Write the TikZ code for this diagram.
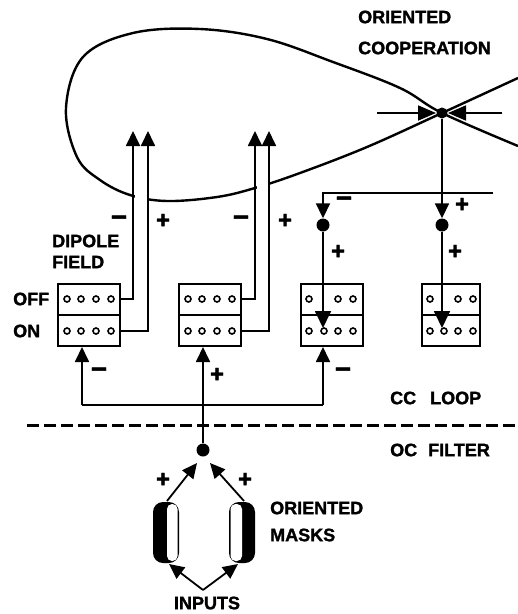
\documentclass[tikz,border=0pt]{standalone}
\usepackage{fontspec}
\setmainfont{Liberation Sans}[BoldFeatures={FakeBold=1.5}]
\usetikzlibrary{arrows.meta}
\begin{document}
\begin{tikzpicture}[x=1pt,y=-1pt,
  lab/.style={font=\fontsize{18}{18}\selectfont\bfseries, inner sep=0pt},
  sgn/.style={font=\fontsize{24}{24}\selectfont\bfseries, inner sep=0pt},
  msgn/.style={font=\fontsize{28}{28}\selectfont\bfseries, inner sep=0pt},
  ln/.style={line width=1.8pt},
  tip/.style={-{Triangle[length=15pt,width=14pt]}},
  bigtip/.style={-{Triangle[length=17pt,width=16pt]}},
  box/.style={draw, line width=2pt, minimum width=62pt, minimum height=62pt, inner sep=0pt},
  hole/.style={draw, circle, line width=1.6pt, minimum size=6pt, inner sep=0pt},
  dot/.style={fill, circle, minimum size=13pt, inner sep=0pt}]
\useasboundingbox (0,0) rectangle (518,614);

% oriented cooperation loop
\draw[line width=2.4pt] plot[smooth, tension=0.6] coordinates {(518,146) (442,113) (400,88) (333,62) (267,39) (200,29) (133,33) (83,57) (66,108) (77,157) (100,180) (130,195) (167,201) (217,197) (255,188) (300,173) (367,147) (442,113) (518,78)};

% dipole field boxes
\node[box] (b1) at (89,315) {};
\node[box] (b2) at (210,315) {};
\node[box] (b3) at (331.5,315) {};
\node[box, minimum width=58pt] (b4) at (451,315) {};
\foreach \b in {b1,b2,b3,b4} \draw[line width=2pt] (\b.west) -- (\b.east);
\foreach \x in {67,81,96,111} {\node[hole] at (\x,299) {}; \node[hole] at (\x,331) {};}
\foreach \x in {188,202,217,232} {\node[hole] at (\x,299) {}; \node[hole] at (\x,331) {};}
\foreach \x in {309,338,353} \node[hole] at (\x,299) {};
\foreach \x in {309,324,338,353} \node[hole] at (\x,331) {};
\foreach \x in {430,458,473} \node[hole] at (\x,299) {};
\foreach \x in {430,444,458,473} \node[hole] at (\x,331) {};

% double shafts
\fill[white] (134.5,150) rectangle (146.5,297);
\fill[white] (256.5,150) rectangle (267.5,297);
\draw[ln,tip] (b1.east |- 0,299) -- (133,299) -- (133,131);
\draw[ln,tip] (b1.east |- 0,331) -- (148,331) -- (148,131);
\draw[ln,tip] (b2.east |- 0,299) -- (255,299) -- (255,131);
\draw[ln,tip] (b2.east |- 0,331) -- (269,331) -- (269,131);
\node[msgn] at (119,221) {−};
\node[sgn] at (163,221) {+};
\node[msgn] at (241,221) {−};
\node[sgn] at (285,221) {+};

% crossing point
\node[circle, fill, minimum size=11pt, inner sep=0pt] (x) at (442,113) {};
\coordinate (xl) at (377,113);
\coordinate (xr) at (502,113);
\draw[ln,-{Triangle[length=18pt,width=15pt]}] (xl) -- (436,113);
\draw[ln,-{Triangle[length=18pt,width=15pt]}] (xr) -- (448,113);

% feedback
\node[dot] (d3) at (323,225) {};
\node[dot] (d4) at (442,225) {};
\coordinate (fb) at (493,193);
\draw[ln,tip] (x) -- (d4);
\draw[ln,tip] (fb) -- (323,193) -- (d3);
\node[msgn] at (344,202) {−};
\node[sgn] at (462,205) {+};
\draw[ln,bigtip] (d3) -- (323,328);
\draw[ln,bigtip] (d4) -- (442,328);
\node[sgn] at (338,252) {+};
\node[sgn] at (455,252) {+};

% CC loop bottom
\node[dot] (d0) at (203,450) {};
\coordinate (c1) at (82,405);
\coordinate (c3) at (323,405);
\draw[ln] (c1) -- (c3);
\draw[ln,tip] (c1) -- (82,347);
\draw[ln,tip] (c3) -- (323,347);
\draw[ln,tip] (d0) -- (203,347);
\node[msgn] at (99,373) {−};
\node[sgn] at (217,375) {+};
\node[msgn] at (343,373) {−};

% dashed separator
\draw[line width=3pt, dash pattern=on 12pt off 5pt] (27,425) -- (518,425);

% oriented masks
\fill[rounded corners=10pt] (153,502) rectangle (179,563);
\fill[white, rounded corners=5pt] (167,504) rectangle (177.5,561);
\fill[rounded corners=10pt] (229,502) rectangle (255,563);
\fill[white, rounded corners=5pt] (230.5,504) rectangle (242,561);
\coordinate (m1) at (167,501);
\coordinate (m2) at (244,501);
\draw[ln,tip] (m1) -- (197,463);
\draw[ln,tip] (m2) -- (210,463);
\node[sgn] at (163,480) {+};
\node[sgn] at (245,480) {+};
\coordinate (in) at (203,590);
\draw[ln,tip] (in) -- (169,564);
\draw[ln,tip] (in) -- (238,564);

% labels
\node[lab, anchor=west] at (358,17) {ORIENTED};
\node[lab, anchor=west] at (358,48) {COOPERATION};
\node[lab, anchor=west] at (52,241) {DIPOLE};
\node[lab, anchor=west] at (52,262) {FIELD};
\node[lab, anchor=west] at (13,299) {OFF};
\node[lab, anchor=west] at (13,331) {ON};
\node[lab, anchor=west] at (390,398) {CC\hspace{9pt} LOOP};
\node[lab, anchor=west] at (390,450) {OC\hspace{6pt} FILTER};
\node[lab, anchor=west] at (270,508) {ORIENTED};
\node[lab, anchor=west] at (270,535) {MASKS};
\node[lab] at (207,603) {INPUTS};
\end{tikzpicture}
\end{document}
